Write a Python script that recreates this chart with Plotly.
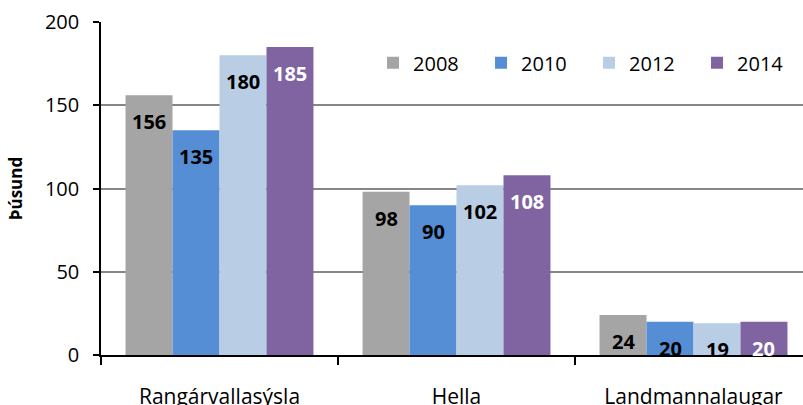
import plotly.graph_objects as go

categories = ["Rangárvallasýsla", "Hella", "Landmannalaugar"]
years = ["2008", "2010", "2012", "2014"]
values_2008 = [156, 98, 24]
values_2010 = [135, 90, 20]
values_2012 = [180, 102, 19]
values_2014 = [185, 108, 20]
series = [values_2008, values_2010, values_2012, values_2014]
colors = ["#A5A5A5", "#558ED5", "#B9CDE5", "#8064A2"]
text_colors = ["#000000", "#000000", "#000000", "#FFFFFF"]
y_ticks = [0, 50, 100, 150, 200]
y_title = "Þúsund"

FONT = "Open Sans"
W, H = 803, 405
ML, MR, MT, MB = 101, 0, 22, 50
X_RANGE = [-0.5, 2.462]
BARGAP = 0.207

plot_w = W - ML - MR
cat_px = plot_w / (X_RANGE[1] - X_RANGE[0])
bar_px = cat_px * (1 - BARGAP) / len(series)

fig = go.Figure()
annotations = []
for j, (name, vals, col, tcol) in enumerate(zip(years, series, colors, text_colors)):
    fig.add_trace(go.Bar(
        name=name, x=categories, y=vals,
        marker=dict(color=col, line=dict(width=0)),
        hoverinfo="skip",
    ))
    for c, v in zip(categories, vals):
        annotations.append(dict(
            x=c, y=v, xref="x", yref="y",
            xshift=(j - (len(series) - 1) / 2) * bar_px,
            yanchor="top", yshift=-11,
            text=str(v), showarrow=False,
            font=dict(family=FONT, size=20, color=tcol, weight="bold"),
        ))

fig.update_layout(
    width=W, height=H,
    margin=dict(l=ML, r=MR, t=MT, b=MB, autoexpand=False),
    paper_bgcolor="white", plot_bgcolor="white",
    barmode="group", bargap=BARGAP, bargroupgap=0,
    font=dict(family=FONT, size=20, color="#000000"),
    legend=dict(
        orientation="h", x=0.3875, y=0.936,
        xanchor="left", yanchor="top",
        font=dict(family=FONT, size=20),
        entrywidthmode="pixels", entrywidth=63,
        bgcolor="rgba(0,0,0,0)",
        traceorder="normal",
    ),
    showlegend=True,
    annotations=annotations,
)

fig.update_xaxes(
    type="category", automargin=False,
    range=X_RANGE,
    showline=True, linecolor="#000000", linewidth=1.5,
    ticks="outside", tickson="boundaries", ticklen=8, tickcolor="#000000", tickwidth=1.5,
    showgrid=False,
    tickfont=dict(family=FONT, size=21),
    ticklabelstandoff=22,
)
fig.update_yaxes(
    range=[0, 200], tickvals=y_ticks, automargin=False,
    showline=True, linecolor="#000000", linewidth=1.5,
    ticks="outside", ticklen=6, tickcolor="#000000", tickwidth=1.5,
    showgrid=True, gridcolor="#868686", gridwidth=2,
    zeroline=False,
    tickfont=dict(family=FONT, size=20),
    ticklabelstandoff=10,
    title=dict(text=y_title, font=dict(family=FONT, size=17, weight="bold"), standoff=18),
)

fig.write_html(
    "out.html",
    config={"displayModeBar": False},
    post_script="document.body.style.margin='0';document.body.style.overflow='hidden';",
)
